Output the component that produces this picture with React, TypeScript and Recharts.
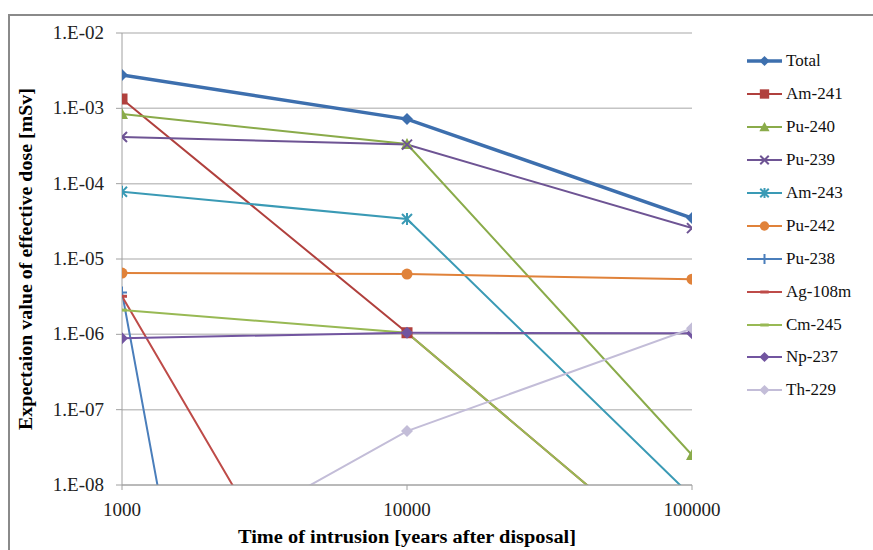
import { LineChart, Line, XAxis, YAxis, CartesianGrid } from 'recharts';

// time of intrusion [years after disposal]
const years = [1000, 10000, 100000];
const yTicks = [1e-8, 1e-7, 1e-6, 1e-5, 1e-4, 1e-3, 1e-2];

// expectation value of effective dose [mSv]
const total = [2.77e-3, 7.2e-4, 3.5e-5];
const am241 = [1.33e-3, 1.05e-6, 6.6e-10];
const pu240 = [8.4e-4, 3.36e-4, 2.5e-8];
const pu239 = [4.16e-4, 3.3e-4, 2.57e-5];
const am243 = [7.8e-5, 3.4e-5, 7.0e-9];
const pu242 = [6.5e-6, 6.3e-6, 5.4e-6];
const pu238 = [3.6e-6, 1.0e-26, 1.0e-40];
const ag108m = [3.2e-6, 1.1e-12, 1.0e-18];
const cm245 = [2.1e-6, 1.05e-6, 6.6e-10];
const np237 = [8.9e-7, 1.05e-6, 1.03e-6];
const th229 = [4.0e-10, 5.2e-8, 1.2e-6];

type Marker = 'diamond' | 'square' | 'triangle' | 'x' | 'star' | 'circle' | 'plus' | 'dash';

const series: { key: string; values: number[]; color: string; marker: Marker; width: number }[] = [
  { key: 'Total', values: total, color: '#3d6fae', marker: 'diamond', width: 3.5 },
  { key: 'Am-241', values: am241, color: '#b0403d', marker: 'square', width: 2 },
  { key: 'Pu-240', values: pu240, color: '#8aab4a', marker: 'triangle', width: 2 },
  { key: 'Pu-239', values: pu239, color: '#6e5494', marker: 'x', width: 2 },
  { key: 'Am-243', values: am243, color: '#3a9ab5', marker: 'star', width: 2 },
  { key: 'Pu-242', values: pu242, color: '#e0823a', marker: 'circle', width: 2 },
  { key: 'Pu-238', values: pu238, color: '#4a7ebb', marker: 'plus', width: 2 },
  { key: 'Ag-108m', values: ag108m, color: '#be4b48', marker: 'dash', width: 2 },
  { key: 'Cm-245', values: cm245, color: '#98b954', marker: 'dash', width: 2 },
  { key: 'Np-237', values: np237, color: '#7255a0', marker: 'diamond', width: 2 },
  { key: 'Th-229', values: th229, color: '#c3bdd8', marker: 'diamond', width: 2 },
];

const data = years.map((year, i) => {
  const row: Record<string, number> = { year };
  series.forEach((s) => {
    row[s.key] = s.values[i];
  });
  return row;
});

const FONT = '"Liberation Serif", "Times New Roman", serif';

function MarkerShape({ cx, cy, marker, color, size = 1 }: { cx: number; cy: number; marker: Marker; color: string; size?: number }) {
  const s = size;
  switch (marker) {
    case 'diamond':
      return <path d={`M${cx},${cy - 6 * s}L${cx + 6 * s},${cy}L${cx},${cy + 6 * s}L${cx - 6 * s},${cy}Z`} fill={color} />;
    case 'square':
      return <rect x={cx - 5.5 * s} y={cy - 5.5 * s} width={11 * s} height={11 * s} fill={color} />;
    case 'triangle':
      return <path d={`M${cx},${cy - 6 * s}L${cx + 6 * s},${cy + 5 * s}L${cx - 6 * s},${cy + 5 * s}Z`} fill={color} />;
    case 'x':
      return (
        <path
          d={`M${cx - 5 * s},${cy - 5 * s}L${cx + 5 * s},${cy + 5 * s}M${cx + 5 * s},${cy - 5 * s}L${cx - 5 * s},${cy + 5 * s}`}
          stroke={color}
          strokeWidth={2}
        />
      );
    case 'star':
      return (
        <path
          d={`M${cx - 5 * s},${cy - 5 * s}L${cx + 5 * s},${cy + 5 * s}M${cx + 5 * s},${cy - 5 * s}L${cx - 5 * s},${cy + 5 * s}M${cx},${cy - 6 * s}L${cx},${cy + 6 * s}`}
          stroke={color}
          strokeWidth={2}
        />
      );
    case 'circle':
      return <circle cx={cx} cy={cy} r={5.5 * s} fill={color} />;
    case 'plus':
      return (
        <path d={`M${cx - 5 * s},${cy}L${cx + 5 * s},${cy}M${cx},${cy - 6 * s}L${cx},${cy + 6 * s}`} stroke={color} strokeWidth={2} />
      );
    case 'dash':
      return <path d={`M${cx - 5 * s},${cy}L${cx + 5 * s},${cy}`} stroke={color} strokeWidth={3} />;
  }
}

function ChartLegend() {
  return (
    <div style={{ position: 'absolute', left: 747, top: 45, fontFamily: FONT, fontSize: 17, color: '#111' }}>
      {series.map((s) => (
        <div key={s.key} style={{ display: 'flex', alignItems: 'center', height: 32.9 }}>
          <svg width={35} height={14} style={{ marginRight: 4 }}>
            <line x1={0} y1={7} x2={35} y2={7} stroke={s.color} strokeWidth={s.width} />
            <MarkerShape cx={17.5} cy={7} marker={s.marker} color={s.color} size={0.85} />
          </svg>
          <span>{s.key}</span>
        </div>
      ))}
    </div>
  );
}

const fmtY = (v: number) => {
  const e = Math.round(Math.log10(v));
  const abs = Math.abs(e);
  return `1.E${e < 0 ? '-' : '+'}${abs < 10 ? '0' : ''}${abs}`;
};

const XTick = ({ x, y, payload }: any) => (
  <text x={x} y={y + 24} textAnchor="middle" fontFamily={FONT} fontSize={19} fill="#222">
    {payload.value}
  </text>
);

const YTick = ({ x, y, payload }: any) => (
  <text x={x - 2} y={y + 6} textAnchor="end" fontFamily={FONT} fontSize={19} fill="#222">
    {fmtY(payload.value)}
  </text>
);

export default function App() {
  return (
    <div style={{ position: 'absolute', left: 0, top: 0, width: 873, height: 550, background: '#fff', overflow: 'hidden' }}>
      <div
        style={{
          position: 'absolute',
          left: 8,
          top: 14,
          width: 900,
          height: 600,
          borderTop: '2px solid #8a8a8a',
          borderLeft: '2px solid #8a8a8a',
        }}
      />
      <div style={{ position: 'absolute', left: 0, top: 0 }}>
        <LineChart width={873} height={550} data={data} margin={{ top: 33, right: 181, left: 0, bottom: 35 }}>
          <CartesianGrid vertical={false} stroke="#c4c4c4" strokeWidth={1.5} />
          <XAxis
            dataKey="year"
            type="number"
            scale="log"
            domain={[1000, 100000]}
            ticks={years}
            allowDataOverflow
            height={30}
            axisLine={{ stroke: '#a0a0a0' }}
            tickLine={{ stroke: '#a0a0a0' }}
            tickSize={5}
            tick={<XTick />}
            label={{
              content: () => (
                <text
                  x={407}
                  y={543}
                  textAnchor="middle"
                  fontFamily={FONT}
                  fontSize={18}
                  fontWeight="bold"
                  fill="#000"
                  textLength={338}
                  lengthAdjust="spacingAndGlyphs"
                >
                  Time of intrusion [years after disposal]
                </text>
              ),
            }}
          />
          <YAxis
            type="number"
            scale="log"
            domain={[1e-8, 1e-2]}
            ticks={yTicks}
            allowDataOverflow
            width={122}
            axisLine={{ stroke: '#a0a0a0' }}
            tickLine={{ stroke: '#a0a0a0' }}
            tickSize={6}
            tickMargin={10}
            tick={<YTick />}
            label={{
              content: () => (
                <text
                  x={32}
                  y={259}
                  transform="rotate(-90 32 259)"
                  textAnchor="middle"
                  fontFamily={FONT}
                  fontSize={18}
                  fontWeight="bold"
                  fill="#000"
                  textLength={342}
                  lengthAdjust="spacingAndGlyphs"
                >
                  Expectaion value of effective dose [mSv]
                </text>
              ),
            }}
          />
          {series.map((s) => (
            <Line
              key={s.key}
              dataKey={s.key}
              stroke={s.color}
              strokeWidth={s.width}
              isAnimationActive={false}
              dot={(p: any) => <MarkerShape key={`${s.key}-${p.index}`} cx={p.cx} cy={p.cy} marker={s.marker} color={s.color} />}
              activeDot={false}
            />
          ))}
        </LineChart>
      </div>
      <ChartLegend />
    </div>
  );
}
